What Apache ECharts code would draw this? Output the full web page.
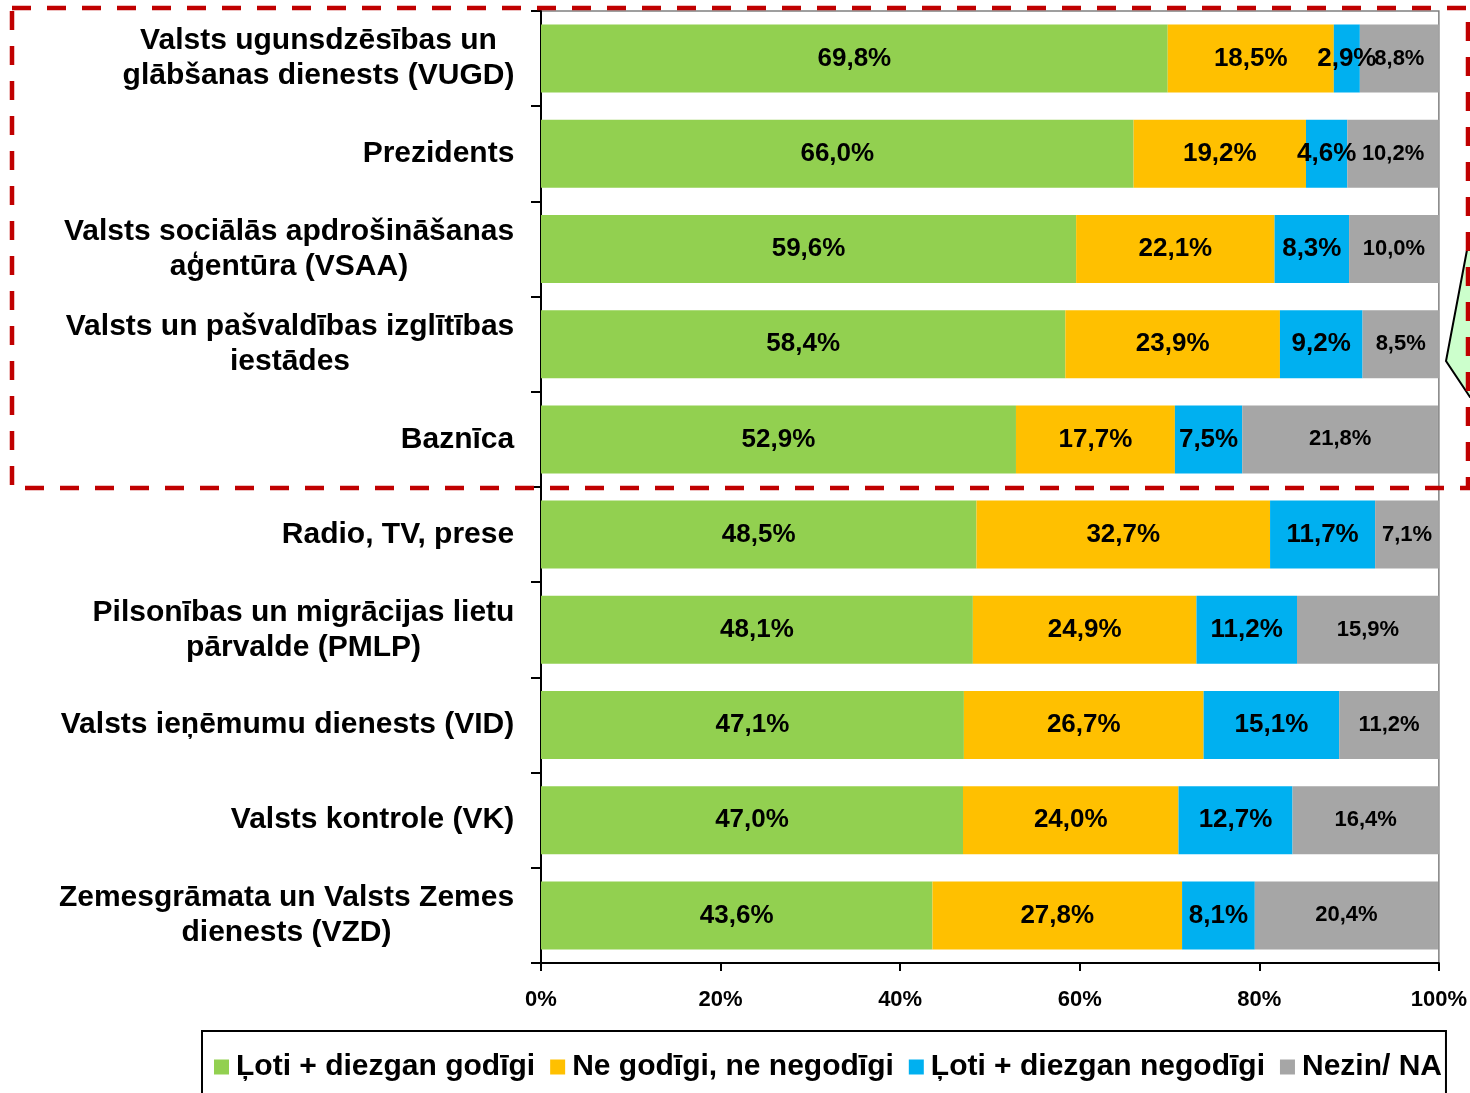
<!DOCTYPE html>
<html>
<head>
<meta charset="utf-8">
<script src="https://cdn.jsdelivr.net/npm/echarts@6/dist/echarts.min.js"></script>
<style>
  html, body { margin: 0; padding: 0; background: #fff; }
  #chart { width: 1470px; height: 1093px; }
</style>
</head>
<body>
<div id="chart"></div>
<script>
// categories (top to bottom)
var institutions = [
  'Valsts ugunsdzēsības un\nglābšanas dienests (VUGD)',
  'Prezidents',
  'Valsts sociālās apdrošināšanas\naģentūra (VSAA)',
  'Valsts un pašvaldības izglītības\niestādes',
  'Baznīca',
  'Radio, TV, prese',
  'Pilsonības un migrācijas lietu\npārvalde (PMLP)',
  'Valsts ieņēmumu dienests (VID)',
  'Valsts kontrole (VK)',
  'Zemesgrāmata un Valsts Zemes\ndienests (VZD)'
];
var seriesNames = ['Ļoti + diezgan godīgi', 'Ne godīgi, ne negodīgi', 'Ļoti + diezgan negodīgi', 'Nezin/ NA'];
var honest    = [69.8, 66.0, 59.6, 58.4, 52.9, 48.5, 48.1, 47.1, 47.0, 43.6];
var neutral   = [18.5, 19.2, 22.1, 23.9, 17.7, 32.7, 24.9, 26.7, 24.0, 27.8];
var dishonest = [2.9, 4.6, 8.3, 9.2, 7.5, 11.7, 11.2, 15.1, 12.7, 8.1];
var dontKnow  = [8.8, 10.2, 10.0, 8.5, 21.8, 7.1, 15.9, 11.2, 16.4, 20.4];
var xTicks = [0, 20, 40, 60, 80, 100];

var colors = ['#92D050', '#FFC000', '#00B0F0', '#A6A6A6'];
var FONT = '"Liberation Sans", Arial, sans-serif';

// measure widest line of each label so multi-line labels are centred like Excel
var ctx = document.createElement('canvas').getContext('2d');
ctx.font = 'bold 30px ' + FONT;
var rich = {};
institutions.forEach(function (name, i) {
  var w = 0;
  name.split('\n').forEach(function (l) { w = Math.max(w, ctx.measureText(l).width); });
  rich['w' + i] = { width: Math.ceil(w) + 1, align: 'center', fontSize: 30, fontWeight: 'bold',
    fontFamily: FONT, color: '#000', lineHeight: 35 };
});

function pct(v) { return v.toFixed(1).replace('.', ',') + '%'; }

function makeSeries(name, data, idx) {
  return {
    name: name,
    type: 'bar',
    stack: 'all',
    data: data,
    barWidth: 68,
    itemStyle: { color: colors[idx] },
    label: {
      show: true,
      position: 'inside',
      color: '#000',
      fontFamily: FONT,
      fontWeight: 'bold',
      fontSize: idx === 3 ? 22 : 26,
      formatter: function (p) { return pct(p.value); }
    }
  };
}

var chart = echarts.init(document.getElementById('chart'));
chart.setOption({
  animation: false,
  backgroundColor: '#fff',
  textStyle: { fontFamily: FONT },
  grid: {
    left: 541, right: 31, top: 11, height: 952,
    show: true, borderColor: '#808080', borderWidth: 1.5
  },
  xAxis: {
    type: 'value',
    min: 0, max: 100, interval: 20,
    axisLine: { show: true, lineStyle: { color: '#000', width: 2 } },
    axisTick: { show: true, length: 8, lineStyle: { color: '#000', width: 2 } },
    splitLine: { show: false },
    axisLabel: {
      margin: 26, color: '#000', fontSize: 22, fontWeight: 'bold', fontFamily: FONT,
      customValues: xTicks,
      formatter: '{value}%'
    }
  },
  yAxis: {
    type: 'category',
    inverse: true,
    data: institutions,
    axisLine: { show: true, lineStyle: { color: '#000', width: 2 } },
    axisTick: { show: true, length: 10, lineStyle: { color: '#000', width: 2 } },
    axisLabel: {
      interval: 0,
      margin: 26,
      rich: rich,
      formatter: function (v, i) {
        return v.split('\n').map(function (l) { return '{w' + i + '|' + l + '}'; }).join('\n');
      }
    }
  },
  legend: {
    left: 202, top: 1031,
    icon: 'rect', itemWidth: 15, itemHeight: 15, itemGap: 15,
    borderColor: '#000', borderWidth: 2,
    padding: [21, 4, 40, 12],
    textStyle: { fontSize: 30, fontWeight: 'bold', color: '#000', fontFamily: FONT, padding: [0, 0, 0, 2] },
    data: seriesNames
  },
  series: [
    makeSeries(seriesNames[0], honest, 0),
    makeSeries(seriesNames[1], neutral, 1),
    makeSeries(seriesNames[2], dishonest, 2),
    makeSeries(seriesNames[3], dontKnow, 3)
  ],
  graphic: [
    {
      type: 'polygon', z: 100,
      shape: { points: [[1467, 250], [1446, 361], [1470, 397], [1480, 397], [1480, 250]] },
      style: { fill: '#CCFFCC', stroke: '#000', lineWidth: 2 }
    },
    {
      type: 'rect', z: 101,
      shape: { x: 12, y: 8, width: 1456, height: 480 },
      style: { fill: 'none', stroke: '#C00000', lineWidth: 4.5, lineDash: [19, 16] }
    }
  ]
});
</script>
</body>
</html>
